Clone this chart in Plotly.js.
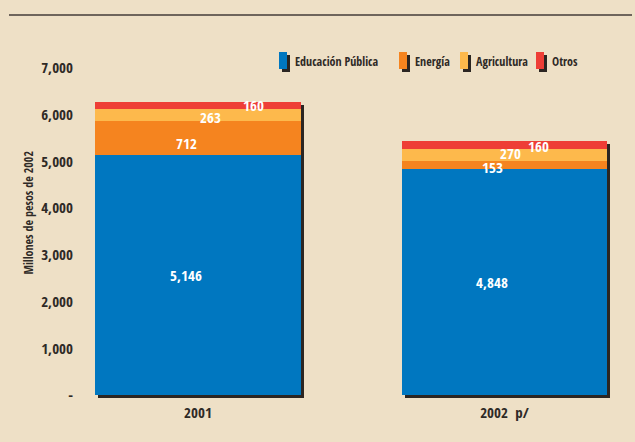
<!DOCTYPE html>
<html>
<head>
<meta charset="utf-8">
<script src="https://cdn.plot.ly/plotly-3.0.1.min.js"></script>
<style>
  html, body { margin: 0; padding: 0; background: #EEE0C6; }
  #chart { width: 635px; height: 442px; }
</style>
</head>
<body>
<div id="chart"></div>
<script>
// ---- Data ----
const categories = ["2001", "2002  p/"];
const seriesNames = ["Educación Pública", "Energía", "Agricultura", "Otros"];
const educacion = [5146, 4848];
const energia = [712, 153];
const agricultura = [263, 270];
const otros = [160, 160];
const yTickVals = [0, 1000, 2000, 3000, 4000, 5000, 6000, 7000];
const yTickText = ["-", "1,000", "2,000", "3,000", "4,000", "5,000", "6,000", "7,000"];
const axisTitle = "Millones de pesos de 2002";

// ---- Styles ----
const colors = ["#0077C0", "#F5841F", "#FDB94C", "#EE3E36"];
const shadowColor = "#2B2622";
const textColor = "#2E2A26";
const bg = "#EEE0C6";
const FONT = "'Noto Sans ExtraCondensed', 'Noto Sans Condensed', 'Open Sans Condensed', 'Roboto Condensed', 'Liberation Sans Narrow', 'DejaVu Sans Condensed', 'Noto Sans', sans-serif";
// label pixel offsets [series][category] -> [dx, dy]
const labelOffsets = [
  [[-12, 0], [-13, 0]],
  [[-12, -5], [-12, -2]],
  [[12, -2], [6, 2]],
  [[55, 0], [34, -1]]
];
// legend marker left edges (px)
const legendMarkerX = [279, 399, 460, 536];

const W = 635, H = 442;
const series = [educacion, energia, agricultura, otros];
const totals = categories.map((c, i) => series.reduce((s, arr) => s + arr[i], 0));

const traces = [];
traces.push({
  type: "bar", x: categories, y: totals, xaxis: "x", yaxis: "y",
  marker: { color: shadowColor }, showlegend: false, hoverinfo: "skip"
});
series.forEach((arr, k) => {
  traces.push({
    type: "bar", name: seriesNames[k], x: categories, y: arr,
    xaxis: "x2", yaxis: "y2", showlegend: false,
    marker: { color: colors[k], line: { width: 0 } }
  });
});

const annotations = [];
series.forEach((arr, k) => {
  arr.forEach((v, i) => {
    let base = 0;
    for (let j = 0; j < k; j++) base += series[j][i];
    annotations.push({
      xref: "x2", yref: "y2", x: i, y: base + v / 2,
      text: v.toLocaleString("en-US"), showarrow: false,
      xshift: labelOffsets[k][i][0], yshift: labelOffsets[k][i][1],
      font: { family: FONT, size: 15, color: "#FFFFFF", weight: 500 }
    });
  });
});
annotations.push({
  xref: "paper", yref: "paper", x: 18 / W, y: (H - 213) / H,
  text: axisTitle, textangle: -90, showarrow: false,
  font: { family: FONT, size: 12, color: textColor, weight: 500 }
});

const shapes = [{
  type: "line", xref: "paper", yref: "paper",
  x0: 9 / W, x1: 632 / W, y0: (H - 15) / H, y1: (H - 15) / H,
  line: { color: "#6E655C", width: 2 }
}];
// custom legend (marker with drop shadow + label)
seriesNames.forEach((name, k) => {
  const mx = legendMarkerX[k];
  shapes.push({
    type: "rect", xref: "paper", yref: "paper", layer: "above",
    x0: (mx + 3) / W, x1: (mx + 11) / W, y0: (H - 72) / H, y1: (H - 55) / H,
    fillcolor: shadowColor, line: { width: 0 }
  });
  shapes.push({
    type: "rect", xref: "paper", yref: "paper", layer: "above",
    x0: mx / W, x1: (mx + 8) / W, y0: (H - 69) / H, y1: (H - 52) / H,
    fillcolor: colors[k], line: { width: 0 }
  });
  annotations.push({
    xref: "paper", yref: "paper", x: (mx + 14) / W, y: (H - 62) / H,
    xanchor: "left", yanchor: "middle", text: name, showarrow: false,
    font: { family: FONT, size: 12, color: textColor, weight: 500 }
  });
});

const xr = [-(198 - 80) / 306.5, (620 - 198) / 306.5];
const tf = { family: FONT, size: 15, color: textColor, weight: 500 };
const layout = {
  width: W, height: H,
  margin: { l: 0, r: 0, t: 0, b: 0 },
  paper_bgcolor: bg, plot_bgcolor: "rgba(0,0,0,0)",
  barmode: "stack", bargap: 0.328,
  showlegend: false,
  xaxis: { domain: [83 / W, 623 / W], range: xr, type: "category", visible: false, fixedrange: true },
  yaxis: { domain: [(H - 398) / H, (H - 71) / H], range: [0, 7000], visible: false, fixedrange: true },
  xaxis2: {
    domain: [80 / W, 620 / W], range: xr, type: "category", anchor: "y2",
    showgrid: false, zeroline: false, showline: false, ticks: "", ticklen: 0,
    ticklabelstandoff: 7, tickfont: tf, automargin: false
  },
  yaxis2: {
    domain: [(H - 395) / H, (H - 68) / H], range: [0, 7000], anchor: "x2",
    showgrid: false, zeroline: false, showline: false, ticks: "", ticklen: 0,
    tickvals: yTickVals, ticktext: yTickText, ticklabelstandoff: 6,
    tickfont: tf, automargin: false
  },
  shapes: shapes,
  annotations: annotations
};

Plotly.newPlot("chart", traces, layout, { displayModeBar: false, staticPlot: true });
</script>
</body>
</html>
